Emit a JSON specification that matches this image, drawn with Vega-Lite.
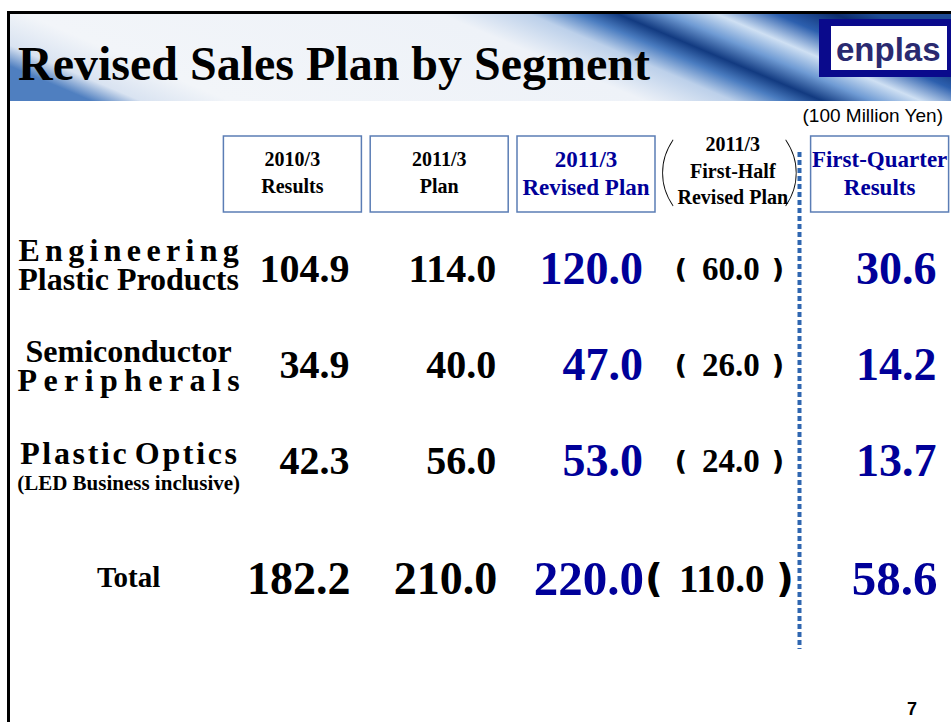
{
  "$schema": "https://vega.github.io/schema/vega-lite/v6.json",
  "width": 951,
  "height": 722,
  "padding": 0,
  "autosize": {"type": "none"},
  "background": "white",
  "config": {"view": {"stroke": null}},
  "datasets": {
    "cells": [
      {"segment": "Engineering Plastic Products", "period": "2010/3 Results", "value": 104.9},
      {"segment": "Engineering Plastic Products", "period": "2011/3 Plan", "value": 114.0},
      {"segment": "Engineering Plastic Products", "period": "2011/3 Revised Plan", "value": 120.0},
      {"segment": "Engineering Plastic Products", "period": "2011/3 First-Half Revised Plan", "value": 60.0},
      {"segment": "Engineering Plastic Products", "period": "First-Quarter Results", "value": 30.6},
      {"segment": "Semiconductor Peripherals", "period": "2010/3 Results", "value": 34.9},
      {"segment": "Semiconductor Peripherals", "period": "2011/3 Plan", "value": 40.0},
      {"segment": "Semiconductor Peripherals", "period": "2011/3 Revised Plan", "value": 47.0},
      {"segment": "Semiconductor Peripherals", "period": "2011/3 First-Half Revised Plan", "value": 26.0},
      {"segment": "Semiconductor Peripherals", "period": "First-Quarter Results", "value": 14.2},
      {"segment": "Plastic Optics", "period": "2010/3 Results", "value": 42.3},
      {"segment": "Plastic Optics", "period": "2011/3 Plan", "value": 56.0},
      {"segment": "Plastic Optics", "period": "2011/3 Revised Plan", "value": 53.0},
      {"segment": "Plastic Optics", "period": "2011/3 First-Half Revised Plan", "value": 24.0},
      {"segment": "Plastic Optics", "period": "First-Quarter Results", "value": 13.7},
      {"segment": "Total", "period": "2010/3 Results", "value": 182.2},
      {"segment": "Total", "period": "2011/3 Plan", "value": 210.0},
      {"segment": "Total", "period": "2011/3 Revised Plan", "value": 220.0},
      {"segment": "Total", "period": "2011/3 First-Half Revised Plan", "value": 110.0},
      {"segment": "Total", "period": "First-Quarter Results", "value": 58.6}
    ],
    "headers": [
      {"period": "2010/3 Results", "label": ["2010/3", "Results"]},
      {"period": "2011/3 Plan", "label": ["2011/3", "Plan"]},
      {"period": "2011/3 Revised Plan", "label": ["2011/3", "Revised Plan"]},
      {"period": "2011/3 First-Half Revised Plan", "label": ["2011/3", "First-Half", "Revised Plan"]},
      {"period": "First-Quarter Results", "label": ["First-Quarter", "Results"]}
    ],
    "segments": [
      {"segment": "Engineering Plastic Products", "label": ["E\u2006n\u2006g\u2006i\u2006n\u2006e\u2006e\u2006r\u2006i\u2006n\u2006g", "Plastic Products"]},
      {"segment": "Semiconductor Peripherals", "label": ["Semiconductor", "P\u2009e\u2009r\u2009i\u2009p\u2009h\u2009e\u2009r\u2009a\u2009l\u2009s"]},
      {"segment": "Plastic Optics", "label": "P\u200al\u200aa\u200as\u200at\u200ai\u200ac  O\u200ap\u200at\u200ai\u200ac\u200as", "note": "(LED Business inclusive)"},
      {"segment": "Total", "label": "Total"}
    ]
  },
  "layer": [
    {
      "data": {"values": [{}]},
      "mark": {"type": "rect", "stroke": null, "fill": {"gradient": "linear", "x1": 0, "y1": 0.6, "x2": 1, "y2": 0.38,
        "stops": [
          {"offset": 0, "color": "#4f7fc0"},
          {"offset": 0.05, "color": "#d9e3f1"},
          {"offset": 0.14, "color": "#f2f5f9"},
          {"offset": 0.56, "color": "#eef2f8"},
          {"offset": 0.65, "color": "#bcd0ea"},
          {"offset": 0.7, "color": "#4a7cc0"},
          {"offset": 0.74, "color": "#123a80"},
          {"offset": 0.79, "color": "#6f9bd4"},
          {"offset": 0.84, "color": "#cfe0f3"},
          {"offset": 0.9, "color": "#2c5fae"},
          {"offset": 0.96, "color": "#0c2c6e"},
          {"offset": 1, "color": "#1d4a94"}
        ]}},
      "encoding": {"x": {"value": 9}, "x2": {"value": 951}, "y": {"value": 13}, "y2": {"value": 101}}
    },
    {
      "data": {"values": [{}]},
      "mark": {"type": "rule", "color": "black", "strokeWidth": 3},
      "encoding": {"x": {"value": 7}, "x2": {"value": 951}, "y": {"value": 12.5}}
    },
    {
      "data": {"values": [{}]},
      "mark": {"type": "rule", "color": "black", "strokeWidth": 3},
      "encoding": {"x": {"value": 8.5}, "y": {"value": 11}, "y2": {"value": 722}}
    },
    {
      "data": {"values": [{}]},
      "mark": {"type": "text", "text": "Revised Sales Plan by Segment", "font": "Liberation Serif", "fontWeight": "bold", "fontSize": 48, "align": "left", "baseline": "alphabetic", "color": "black"},
      "encoding": {"x": {"value": 18}, "y": {"value": 80}}
    },
    {
      "data": {"values": [{}]},
      "mark": {"type": "rect", "fill": "#0a0a8c", "stroke": null},
      "encoding": {"x": {"value": 819}, "x2": {"value": 951}, "y": {"value": 19}, "y2": {"value": 77}}
    },
    {
      "data": {"values": [{}]},
      "mark": {"type": "rect", "fill": "white", "stroke": null},
      "encoding": {"x": {"value": 831}, "x2": {"value": 947}, "y": {"value": 26}, "y2": {"value": 70}}
    },
    {
      "data": {"values": [{}]},
      "mark": {"type": "text", "text": "enplas", "font": "Liberation Sans", "fontWeight": "bold", "fontSize": 33, "align": "left", "baseline": "alphabetic", "color": "#2a2a70"},
      "encoding": {"x": {"value": 836}, "y": {"value": 61}}
    },
    {
      "data": {"values": [{}]},
      "mark": {"type": "text", "text": "(100 Million Yen)", "font": "Liberation Sans", "fontSize": 19, "align": "right", "baseline": "middle", "color": "black"},
      "encoding": {"x": {"value": 943}, "y": {"value": 116}}
    },
    {
      "data": {"name": "headers"},
      "transform": [{"filter": "datum.period !== '2011/3 First-Half Revised Plan'"}],
      "mark": {"type": "rect", "width": 138, "height": 76, "fill": "white", "stroke": "#5b7db5", "strokeWidth": 1.5},
      "encoding": {
        "x": {"field": "period", "type": "nominal", "axis": null, "scale": {"type": "point", "domain": ["Segment", "2010/3 Results", "2011/3 Plan", "2011/3 Revised Plan", "2011/3 First-Half Revised Plan", "First-Quarter Results"], "range": [145.6, 879.6], "padding": 0}},
        "y": {"datum": "header", "type": "nominal", "axis": null, "scale": {"type": "point", "domain": ["header", "Engineering Plastic Products", "Semiconductor Peripherals", "Plastic Optics", "Total"], "range": [174, 558], "padding": 0}}
      }
    },
    {
      "data": {"name": "headers"},
      "transform": [{"filter": "datum.period === '2011/3 First-Half Revised Plan'"}],
      "mark": {"type": "text", "text": "(", "font": "Lato", "fontWeight": 100, "fontSize": 77, "align": "center", "baseline": "middle", "dx": -66, "color": "black"},
      "encoding": {
        "x": {"field": "period", "type": "nominal", "axis": null, "scale": {"type": "point", "domain": ["Segment", "2010/3 Results", "2011/3 Plan", "2011/3 Revised Plan", "2011/3 First-Half Revised Plan", "First-Quarter Results"], "range": [145.6, 879.6], "padding": 0}},
        "y": {"datum": "header", "type": "nominal", "axis": null, "scale": {"type": "point", "domain": ["header", "Engineering Plastic Products", "Semiconductor Peripherals", "Plastic Optics", "Total"], "range": [174, 558], "padding": 0}}
      }
    },
    {
      "data": {"name": "headers"},
      "transform": [{"filter": "datum.period === '2011/3 First-Half Revised Plan'"}],
      "mark": {"type": "text", "text": ")", "font": "Lato", "fontWeight": 100, "fontSize": 77, "align": "center", "baseline": "middle", "dx": 59, "color": "black"},
      "encoding": {
        "x": {"field": "period", "type": "nominal", "axis": null, "scale": {"type": "point", "domain": ["Segment", "2010/3 Results", "2011/3 Plan", "2011/3 Revised Plan", "2011/3 First-Half Revised Plan", "First-Quarter Results"], "range": [145.6, 879.6], "padding": 0}},
        "y": {"datum": "header", "type": "nominal", "axis": null, "scale": {"type": "point", "domain": ["header", "Engineering Plastic Products", "Semiconductor Peripherals", "Plastic Optics", "Total"], "range": [174, 558], "padding": 0}}
      }
    },
    {
      "data": {"name": "headers"},
      "transform": [{"filter": "datum.period === '2010/3 Results' || datum.period === '2011/3 Plan'"}],
      "mark": {"type": "text", "font": "Liberation Serif", "fontWeight": "bold", "fontSize": 20, "lineHeight": 27, "align": "center", "baseline": "middle", "dy": -14, "color": "black"},
      "encoding": {
        "x": {"field": "period", "type": "nominal", "axis": null, "scale": {"type": "point", "domain": ["Segment", "2010/3 Results", "2011/3 Plan", "2011/3 Revised Plan", "2011/3 First-Half Revised Plan", "First-Quarter Results"], "range": [145.6, 879.6], "padding": 0}},
        "y": {"datum": "header", "type": "nominal", "axis": null, "scale": {"type": "point", "domain": ["header", "Engineering Plastic Products", "Semiconductor Peripherals", "Plastic Optics", "Total"], "range": [174, 558], "padding": 0}},
        "text": {"field": "label"}
      }
    },
    {
      "data": {"name": "headers"},
      "transform": [{"filter": "datum.period === '2011/3 Revised Plan' || datum.period === 'First-Quarter Results'"}],
      "mark": {"type": "text", "font": "Liberation Serif", "fontWeight": "bold", "fontSize": 23, "lineHeight": 28, "align": "center", "baseline": "middle", "dy": -14, "color": "#000099"},
      "encoding": {
        "x": {"field": "period", "type": "nominal", "axis": null, "scale": {"type": "point", "domain": ["Segment", "2010/3 Results", "2011/3 Plan", "2011/3 Revised Plan", "2011/3 First-Half Revised Plan", "First-Quarter Results"], "range": [145.6, 879.6], "padding": 0}},
        "y": {"datum": "header", "type": "nominal", "axis": null, "scale": {"type": "point", "domain": ["header", "Engineering Plastic Products", "Semiconductor Peripherals", "Plastic Optics", "Total"], "range": [174, 558], "padding": 0}},
        "text": {"field": "label"}
      }
    },
    {
      "data": {"name": "headers"},
      "transform": [{"filter": "datum.period === '2011/3 First-Half Revised Plan'"}],
      "mark": {"type": "text", "font": "Liberation Serif", "fontWeight": "bold", "fontSize": 20, "lineHeight": 26.5, "align": "center", "baseline": "middle", "dy": -29, "color": "black"},
      "encoding": {
        "x": {"field": "period", "type": "nominal", "axis": null, "scale": {"type": "point", "domain": ["Segment", "2010/3 Results", "2011/3 Plan", "2011/3 Revised Plan", "2011/3 First-Half Revised Plan", "First-Quarter Results"], "range": [145.6, 879.6], "padding": 0}},
        "y": {"datum": "header", "type": "nominal", "axis": null, "scale": {"type": "point", "domain": ["header", "Engineering Plastic Products", "Semiconductor Peripherals", "Plastic Optics", "Total"], "range": [174, 558], "padding": 0}},
        "text": {"field": "label"}
      }
    },
    {
      "data": {"values": [{}]},
      "mark": {"type": "rule", "color": "#2f66b0", "strokeWidth": 4, "strokeDash": [5, 3]},
      "encoding": {"x": {"value": 799.5}, "y": {"value": 152}, "y2": {"value": 649}}
    },
    {
      "data": {"name": "segments"},
      "transform": [{"filter": "datum.segment === 'Engineering Plastic Products'"}],
      "mark": {"type": "text", "font": "Liberation Serif", "fontWeight": "bold", "fontSize": 32, "lineHeight": 29, "align": "center", "baseline": "middle", "dx": -17, "dy": -19, "color": "black"},
      "encoding": {
        "x": {"datum": "Segment", "type": "nominal", "axis": null, "scale": {"type": "point", "domain": ["Segment", "2010/3 Results", "2011/3 Plan", "2011/3 Revised Plan", "2011/3 First-Half Revised Plan", "First-Quarter Results"], "range": [145.6, 879.6], "padding": 0}},
        "y": {"field": "segment", "type": "nominal", "axis": null, "scale": {"type": "point", "domain": ["header", "Engineering Plastic Products", "Semiconductor Peripherals", "Plastic Optics", "Total"], "range": [174, 558], "padding": 0}},
        "text": {"field": "label"}
      }
    },
    {
      "data": {"name": "segments"},
      "transform": [{"filter": "datum.segment === 'Semiconductor Peripherals'"}],
      "mark": {"type": "text", "font": "Liberation Serif", "fontWeight": "bold", "fontSize": 32, "lineHeight": 29, "align": "center", "baseline": "middle", "dx": -17, "dy": -14, "color": "black"},
      "encoding": {
        "x": {"datum": "Segment", "type": "nominal", "axis": null, "scale": {"type": "point", "domain": ["Segment", "2010/3 Results", "2011/3 Plan", "2011/3 Revised Plan", "2011/3 First-Half Revised Plan", "First-Quarter Results"], "range": [145.6, 879.6], "padding": 0}},
        "y": {"field": "segment", "type": "nominal", "axis": null, "scale": {"type": "point", "domain": ["header", "Engineering Plastic Products", "Semiconductor Peripherals", "Plastic Optics", "Total"], "range": [174, 558], "padding": 0}},
        "text": {"field": "label"}
      }
    },
    {
      "data": {"name": "segments"},
      "transform": [{"filter": "datum.segment === 'Plastic Optics'"}],
      "mark": {"type": "text", "font": "Liberation Serif", "fontWeight": "bold", "fontSize": 32, "align": "center", "baseline": "middle", "dx": -17, "dy": -8, "color": "black"},
      "encoding": {
        "x": {"datum": "Segment", "type": "nominal", "axis": null, "scale": {"type": "point", "domain": ["Segment", "2010/3 Results", "2011/3 Plan", "2011/3 Revised Plan", "2011/3 First-Half Revised Plan", "First-Quarter Results"], "range": [145.6, 879.6], "padding": 0}},
        "y": {"field": "segment", "type": "nominal", "axis": null, "scale": {"type": "point", "domain": ["header", "Engineering Plastic Products", "Semiconductor Peripherals", "Plastic Optics", "Total"], "range": [174, 558], "padding": 0}},
        "text": {"field": "label"}
      }
    },
    {
      "data": {"name": "segments"},
      "transform": [{"filter": "datum.segment === 'Plastic Optics'"}],
      "mark": {"type": "text", "font": "Liberation Serif", "fontWeight": "bold", "fontSize": 21, "align": "center", "baseline": "middle", "dx": -17, "dy": 22, "color": "black"},
      "encoding": {
        "x": {"datum": "Segment", "type": "nominal", "axis": null, "scale": {"type": "point", "domain": ["Segment", "2010/3 Results", "2011/3 Plan", "2011/3 Revised Plan", "2011/3 First-Half Revised Plan", "First-Quarter Results"], "range": [145.6, 879.6], "padding": 0}},
        "y": {"field": "segment", "type": "nominal", "axis": null, "scale": {"type": "point", "domain": ["header", "Engineering Plastic Products", "Semiconductor Peripherals", "Plastic Optics", "Total"], "range": [174, 558], "padding": 0}},
        "text": {"field": "note"}
      }
    },
    {
      "data": {"name": "segments"},
      "transform": [{"filter": "datum.segment === 'Total'"}],
      "mark": {"type": "text", "font": "Liberation Serif", "fontWeight": "bold", "fontSize": 29, "align": "center", "baseline": "middle", "dx": -17, "dy": 20, "color": "black"},
      "encoding": {
        "x": {"datum": "Segment", "type": "nominal", "axis": null, "scale": {"type": "point", "domain": ["Segment", "2010/3 Results", "2011/3 Plan", "2011/3 Revised Plan", "2011/3 First-Half Revised Plan", "First-Quarter Results"], "range": [145.6, 879.6], "padding": 0}},
        "y": {"field": "segment", "type": "nominal", "axis": null, "scale": {"type": "point", "domain": ["header", "Engineering Plastic Products", "Semiconductor Peripherals", "Plastic Optics", "Total"], "range": [174, 558], "padding": 0}},
        "text": {"field": "label"}
      }
    },
    {
      "data": {"name": "cells"},
      "transform": [{"filter": "datum.segment !== 'Total' && datum.period !== '2011/3 First-Half Revised Plan'"}],
      "mark": {"type": "text", "font": "Liberation Serif", "fontWeight": "bold", "align": "right", "baseline": "middle", "dx": 57},
      "encoding": {
        "x": {"field": "period", "type": "nominal", "axis": null, "scale": {"type": "point", "domain": ["Segment", "2010/3 Results", "2011/3 Plan", "2011/3 Revised Plan", "2011/3 First-Half Revised Plan", "First-Quarter Results"], "range": [145.6, 879.6], "padding": 0}},
        "y": {"field": "segment", "type": "nominal", "axis": null, "scale": {"type": "point", "domain": ["header", "Engineering Plastic Products", "Semiconductor Peripherals", "Plastic Optics", "Total"], "range": [174, 558], "padding": 0}},
        "text": {"field": "value", "type": "quantitative", "format": ".1f"},
        "color": {"condition": {"test": "datum.period === '2011/3 Revised Plan' || datum.period === 'First-Quarter Results'", "value": "#000099"}, "value": "black"},
        "size": {"condition": {"test": "datum.period === '2011/3 Revised Plan' || datum.period === 'First-Quarter Results'", "value": 46}, "value": 40}
      }
    },
    {
      "data": {"name": "cells"},
      "transform": [{"filter": "datum.segment === 'Total' && datum.period !== '2011/3 First-Half Revised Plan'"}],
      "mark": {"type": "text", "font": "Liberation Serif", "fontWeight": "bold", "align": "right", "baseline": "middle", "dx": 58, "dy": 22},
      "encoding": {
        "x": {"field": "period", "type": "nominal", "axis": null, "scale": {"type": "point", "domain": ["Segment", "2010/3 Results", "2011/3 Plan", "2011/3 Revised Plan", "2011/3 First-Half Revised Plan", "First-Quarter Results"], "range": [145.6, 879.6], "padding": 0}},
        "y": {"field": "segment", "type": "nominal", "axis": null, "scale": {"type": "point", "domain": ["header", "Engineering Plastic Products", "Semiconductor Peripherals", "Plastic Optics", "Total"], "range": [174, 558], "padding": 0}},
        "text": {"field": "value", "type": "quantitative", "format": ".1f"},
        "color": {"condition": {"test": "datum.period === '2011/3 Revised Plan' || datum.period === 'First-Quarter Results'", "value": "#000099"}, "value": "black"},
        "size": {"condition": {"test": "datum.period === '2011/3 Revised Plan' || datum.period === 'First-Quarter Results'", "value": 49}, "value": 46}
      }
    },
    {
      "data": {"name": "cells"},
      "transform": [{"filter": "datum.segment !== 'Total' && datum.period === '2011/3 First-Half Revised Plan'"}],
      "mark": {"type": "text", "font": "Liberation Serif", "fontWeight": "bold", "fontSize": 33, "align": "center", "baseline": "middle", "dx": -2, "color": "black"},
      "encoding": {
        "x": {"field": "period", "type": "nominal", "axis": null, "scale": {"type": "point", "domain": ["Segment", "2010/3 Results", "2011/3 Plan", "2011/3 Revised Plan", "2011/3 First-Half Revised Plan", "First-Quarter Results"], "range": [145.6, 879.6], "padding": 0}},
        "y": {"field": "segment", "type": "nominal", "axis": null, "scale": {"type": "point", "domain": ["header", "Engineering Plastic Products", "Semiconductor Peripherals", "Plastic Optics", "Total"], "range": [174, 558], "padding": 0}},
        "text": {"field": "value", "type": "quantitative", "format": ".1f"}
      }
    },
    {
      "data": {"name": "cells"},
      "transform": [{"filter": "datum.segment === 'Total' && datum.period === '2011/3 First-Half Revised Plan'"}],
      "mark": {"type": "text", "font": "Liberation Serif", "fontWeight": "bold", "fontSize": 39, "align": "center", "baseline": "middle", "dx": -11, "dy": 22, "color": "black"},
      "encoding": {
        "x": {"field": "period", "type": "nominal", "axis": null, "scale": {"type": "point", "domain": ["Segment", "2010/3 Results", "2011/3 Plan", "2011/3 Revised Plan", "2011/3 First-Half Revised Plan", "First-Quarter Results"], "range": [145.6, 879.6], "padding": 0}},
        "y": {"field": "segment", "type": "nominal", "axis": null, "scale": {"type": "point", "domain": ["header", "Engineering Plastic Products", "Semiconductor Peripherals", "Plastic Optics", "Total"], "range": [174, 558], "padding": 0}},
        "text": {"field": "value", "type": "quantitative", "format": ".1f"}
      }
    },
    {
      "data": {"name": "cells"},
      "transform": [{"filter": "datum.segment !== 'Total' && datum.period === '2011/3 First-Half Revised Plan'"}],
      "mark": {"type": "text", "text": "(", "font": "DejaVu Sans", "fontWeight": "bold", "fontSize": 27, "align": "center", "baseline": "middle", "dx": -52, "color": "black"},
      "encoding": {
        "x": {"field": "period", "type": "nominal", "axis": null, "scale": {"type": "point", "domain": ["Segment", "2010/3 Results", "2011/3 Plan", "2011/3 Revised Plan", "2011/3 First-Half Revised Plan", "First-Quarter Results"], "range": [145.6, 879.6], "padding": 0}},
        "y": {"field": "segment", "type": "nominal", "axis": null, "scale": {"type": "point", "domain": ["header", "Engineering Plastic Products", "Semiconductor Peripherals", "Plastic Optics", "Total"], "range": [174, 558], "padding": 0}}
      }
    },
    {
      "data": {"name": "cells"},
      "transform": [{"filter": "datum.segment !== 'Total' && datum.period === '2011/3 First-Half Revised Plan'"}],
      "mark": {"type": "text", "text": ")", "font": "DejaVu Sans", "fontWeight": "bold", "fontSize": 27, "align": "center", "baseline": "middle", "dx": 45, "color": "black"},
      "encoding": {
        "x": {"field": "period", "type": "nominal", "axis": null, "scale": {"type": "point", "domain": ["Segment", "2010/3 Results", "2011/3 Plan", "2011/3 Revised Plan", "2011/3 First-Half Revised Plan", "First-Quarter Results"], "range": [145.6, 879.6], "padding": 0}},
        "y": {"field": "segment", "type": "nominal", "axis": null, "scale": {"type": "point", "domain": ["header", "Engineering Plastic Products", "Semiconductor Peripherals", "Plastic Optics", "Total"], "range": [174, 558], "padding": 0}}
      }
    },
    {
      "data": {"name": "cells"},
      "transform": [{"filter": "datum.segment === 'Total' && datum.period === '2011/3 First-Half Revised Plan'"}],
      "mark": {"type": "text", "text": "(", "font": "DejaVu Sans", "fontWeight": "bold", "fontSize": 39, "align": "center", "baseline": "middle", "dx": -79, "dy": 22, "color": "black"},
      "encoding": {
        "x": {"field": "period", "type": "nominal", "axis": null, "scale": {"type": "point", "domain": ["Segment", "2010/3 Results", "2011/3 Plan", "2011/3 Revised Plan", "2011/3 First-Half Revised Plan", "First-Quarter Results"], "range": [145.6, 879.6], "padding": 0}},
        "y": {"field": "segment", "type": "nominal", "axis": null, "scale": {"type": "point", "domain": ["header", "Engineering Plastic Products", "Semiconductor Peripherals", "Plastic Optics", "Total"], "range": [174, 558], "padding": 0}}
      }
    },
    {
      "data": {"name": "cells"},
      "transform": [{"filter": "datum.segment === 'Total' && datum.period === '2011/3 First-Half Revised Plan'"}],
      "mark": {"type": "text", "text": ")", "font": "DejaVu Sans", "fontWeight": "bold", "fontSize": 39, "align": "center", "baseline": "middle", "dx": 52, "dy": 22, "color": "black"},
      "encoding": {
        "x": {"field": "period", "type": "nominal", "axis": null, "scale": {"type": "point", "domain": ["Segment", "2010/3 Results", "2011/3 Plan", "2011/3 Revised Plan", "2011/3 First-Half Revised Plan", "First-Quarter Results"], "range": [145.6, 879.6], "padding": 0}},
        "y": {"field": "segment", "type": "nominal", "axis": null, "scale": {"type": "point", "domain": ["header", "Engineering Plastic Products", "Semiconductor Peripherals", "Plastic Optics", "Total"], "range": [174, 558], "padding": 0}}
      }
    },
    {
      "data": {"values": [{}]},
      "mark": {"type": "text", "text": "7", "font": "Liberation Sans", "fontWeight": "bold", "fontSize": 18, "align": "center", "baseline": "middle", "color": "black"},
      "encoding": {"x": {"value": 912}, "y": {"value": 710}}
    }
  ]
}
